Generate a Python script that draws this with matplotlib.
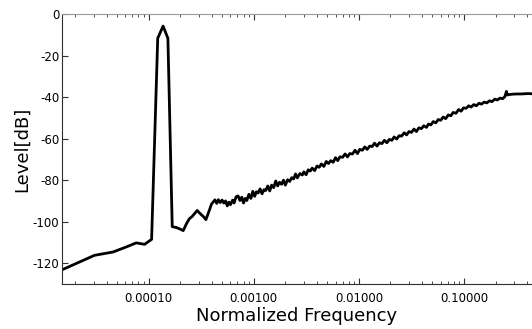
import matplotlib
matplotlib.use('Agg')
import matplotlib.pyplot as plt
from matplotlib.ticker import FuncFormatter, LogLocator, NullFormatter, MultipleLocator

# low-frequency bins (k / 65536)
freq_low = [1.526e-5, 3.052e-5, 4.578e-5, 6.104e-5, 7.629e-5, 9.155e-5, 1.068e-4,
            1.221e-4, 1.373e-4, 1.526e-4, 1.678e-4, 1.831e-4, 1.984e-4, 2.136e-4,
            2.289e-4, 2.441e-4, 2.594e-4, 2.747e-4, 2.899e-4, 3.052e-4, 3.204e-4,
            3.357e-4, 3.510e-4, 3.662e-4, 3.815e-4, 3.967e-4, 4.120e-4, 4.272e-4]
level_low = [-123.0, -116.2, -114.6, -112.2, -110.2, -110.9, -108.5,
             -11.7, -5.8, -11.7, -102.4, -102.8, -103.5, -104.3,
             -101.0, -98.6, -97.5, -96.0, -94.6, -95.8, -96.8,
             -97.8, -99.0, -96.5, -94.0, -91.5, -90.5, -89.5]

# noisy rising part, read as a zigzag along the trace
freq_hi = [4.45e-4, 4.6e-4, 4.8e-4, 5.0e-4, 5.2e-4, 5.4e-4, 5.6e-4, 5.8e-4, 6.0e-4, 6.3e-4,
           6.5e-4, 6.8e-4, 7.1e-4, 7.4e-4, 7.7e-4, 8.0e-4, 8.3e-4, 8.6e-4, 9.0e-4, 9.4e-4,
           9.8e-4, 1.02e-3, 1.06e-3, 1.10e-3, 1.15e-3, 1.20e-3, 1.25e-3, 1.30e-3, 1.36e-3, 1.42e-3,
           1.48e-3, 1.55e-3, 1.62e-3, 1.69e-3, 1.76e-3, 1.84e-3, 1.92e-3, 2.0e-3, 2.1e-3, 2.2e-3,
           2.3e-3, 2.4e-3, 2.5e-3, 2.6e-3, 2.75e-3, 2.9e-3, 3.0e-3, 3.15e-3, 3.3e-3, 3.45e-3,
           3.6e-3, 3.8e-3, 4.0e-3, 4.2e-3, 4.4e-3, 4.65e-3, 4.9e-3, 5.15e-3, 5.4e-3, 5.7e-3,
           6.0e-3, 6.3e-3, 6.6e-3, 7.0e-3, 7.4e-3, 7.8e-3, 8.2e-3, 8.7e-3, 9.2e-3, 9.7e-3,
           1.02e-2, 1.08e-2, 1.14e-2, 1.2e-2, 1.27e-2, 1.34e-2, 1.41e-2, 1.49e-2, 1.57e-2, 1.66e-2,
           1.75e-2, 1.85e-2, 1.95e-2, 2.06e-2, 2.17e-2, 2.29e-2, 2.42e-2, 2.55e-2, 2.7e-2, 2.85e-2,
           3.0e-2, 3.17e-2, 3.35e-2, 3.53e-2, 3.73e-2, 3.94e-2, 4.15e-2, 4.4e-2, 4.6e-2, 4.85e-2,
           5.1e-2, 5.4e-2, 5.7e-2, 6.0e-2, 6.35e-2, 6.7e-2, 7.1e-2, 7.5e-2, 7.9e-2, 8.4e-2,
           8.9e-2, 9.4e-2, 9.9e-2, 0.105, 0.111, 0.117, 0.124, 0.131, 0.139, 0.147,
           0.156, 0.165, 0.175, 0.185, 0.196, 0.208, 0.220, 0.233, 0.245, 0.2535,
           0.258, 0.268, 0.29, 0.32, 0.35, 0.38, 0.41, 0.44, 0.5]
level_hi = [-91.2, -89.4, -90.8, -89.6, -91.0, -90.0, -92.4, -90.6, -91.8, -89.6,
            -91.0, -88.0, -87.6, -89.8, -88.2, -91.0, -88.8, -89.8, -86.8, -88.8,
            -85.4, -87.8, -85.6, -86.2, -84.2, -86.6, -84.6, -85.0, -82.8, -85.2,
            -82.4, -83.6, -80.4, -82.8, -81.0, -82.0, -80.0, -82.4, -79.8, -80.6,
            -78.8, -79.4, -77.0, -78.9, -76.8, -77.5, -76.0, -77.4, -75.0, -75.6,
            -74.2, -75.4, -73.2, -73.8, -72.2, -73.4, -71.0, -72.0, -70.6, -71.4,
            -69.2, -70.6, -68.8, -69.0, -67.4, -68.8, -67.2, -67.4, -65.6, -67.2,
            -65.2, -65.6, -64.0, -65.2, -63.6, -63.8, -62.2, -63.6, -62.0, -62.4,
            -60.8, -62.0, -60.4, -60.8, -59.2, -60.2, -58.6, -58.8, -57.2, -58.2,
            -56.6, -57.0, -55.4, -56.6, -54.8, -55.2, -53.8, -54.6, -53.0, -53.4,
            -51.8, -52.4, -50.8, -51.2, -49.6, -50.4, -48.6, -49.0, -47.4, -47.8,
            -46.0, -46.8, -45.2, -45.4, -44.2, -44.8, -43.6, -44.2, -43.0, -43.4,
            -42.4, -42.8, -41.8, -42.2, -41.0, -41.4, -40.5, -40.8, -39.8, -37.3,
            -39.0, -38.8, -38.6, -38.5, -38.5, -38.4, -38.3, -38.4, -38.3]

freq = freq_low + freq_hi
level = level_low + level_hi

plt.rcParams['font.family'] = 'DejaVu Sans'
plt.rcParams['axes.unicode_minus'] = False

fig = plt.figure(figsize=(5.32, 3.29), dpi=100)
ax = fig.add_axes([62 / 532, 1 - 284 / 329, 1 - 62 / 532, 270 / 329])

ax.plot(freq, level, color='black', lw=2.0)

ax.set_xscale('log')
ax.set_xlim(1.5e-5, 0.444)
ax.set_ylim(-130, 0)
ax.yaxis.set_major_locator(MultipleLocator(20))
ax.xaxis.set_major_locator(LogLocator(base=10))
ax.xaxis.set_minor_locator(LogLocator(base=10, subs=range(2, 10)))
ax.xaxis.set_major_formatter(FuncFormatter(lambda v, p: f'{v:.5f}'))
ax.xaxis.set_minor_formatter(NullFormatter())

ax.tick_params(axis='x', which='both', direction='in', top=True, bottom=True,
               labelsize=8.5, pad=6, color='#303030')
ax.tick_params(axis='x', which='major', length=4)
ax.tick_params(axis='x', which='minor', length=2.5)
ax.tick_params(axis='y', direction='in', left=True, right=False, length=4,
               labelsize=8.5, pad=2, color='#303030')

ax.spines['right'].set_visible(False)
ax.spines['top'].set_color('#999999')
ax.spines['left'].set_color('#303030')
ax.spines['bottom'].set_color('#303030')

ax.set_xlabel('Normalized Frequency', fontsize=13, labelpad=1)
ax.set_ylabel('Level[dB]', fontsize=13, labelpad=1)

fig.savefig('out.png', dpi=100)
